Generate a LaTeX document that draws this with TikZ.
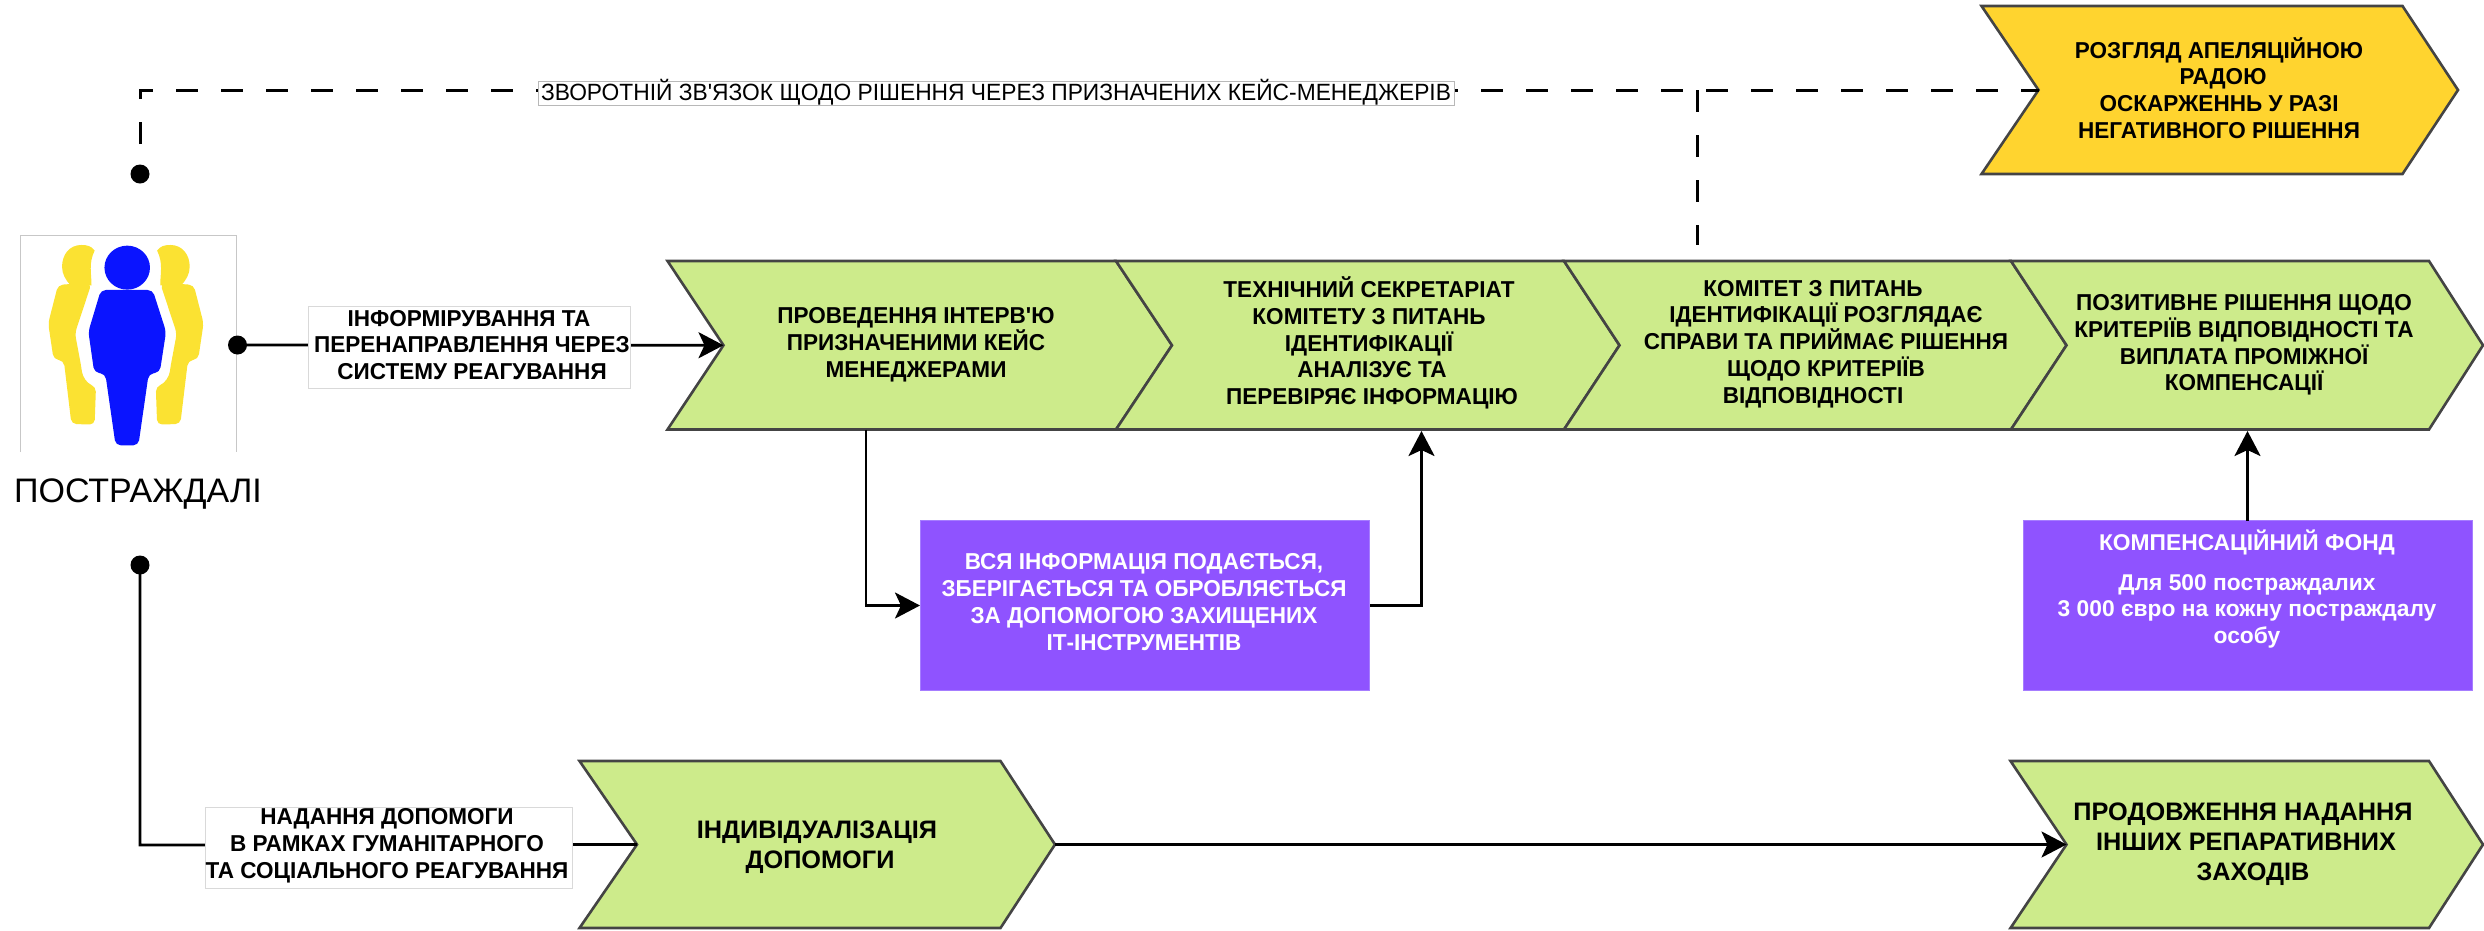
\documentclass[tikz,border=0pt]{standalone}
\usepackage{fontspec}
\setmainfont{Liberation Sans}
\newfontfamily\lbold[FakeStretch=0.98]{Liberation Sans Bold}
\newfontfamily\lbolda{Liberation Sans Bold}
\newfontfamily\lreg[FakeStretch=0.97]{Liberation Sans}
\newfontfamily\lplain{Liberation Sans}
\usetikzlibrary{arrows.meta}
\definecolor{chevgreen}{HTML}{CDEB8B}
\definecolor{chevyellow}{HTML}{FFD42F}
\definecolor{chevline}{HTML}{444444}
\definecolor{violetbox}{HTML}{8F53FF}
\definecolor{violetline}{HTML}{A67DFF}
\definecolor{pplyellow}{HTML}{FBE232}
\definecolor{pplblue}{HTML}{0A14FF}
\tikzset{
  chevshape/.style={draw=chevline,line width=2.6pt,line join=miter},
  bodytxt/.style={font=\lbold\fontsize{23}{26.8}\selectfont,align=center,inner sep=0pt,text=black},
  bigtxt/.style={font=\lbolda\fontsize{25.3}{30}\selectfont,align=center,inner sep=0pt,text=black},
  violetrect/.style={fill=violetbox,draw=violetline,line width=1pt,inner sep=0pt,minimum width=449pt,minimum height=170pt},
  whitetxt/.style={font=\lbold\fontsize{23}{26.8}\selectfont,align=center,inner sep=0pt,text=white},
  fundtxt/.style={font=\lbolda\fontsize{22.8}{26.5}\selectfont,align=center,inner sep=0pt,text=white},
  lblbox/.style={fill=white,draw=black!15,line width=1pt,inner sep=0pt},
  dotnode/.style={circle,fill=black,inner sep=0pt,minimum size=19pt},
  flow/.style={draw=black,line width=2.8pt,-{Stealth[length=25pt,width=26pt,inset=6pt]}},
  plainflow/.style={draw=black,line width=2.8pt},
  dashflow/.style={draw=black,line width=3pt,dash pattern=on 22pt off 23pt},
}
% name, left, notch, end, tip, top, bottom, fill
\newcommand{\chevron}[8]{%
  \coordinate (#1-lt) at (#2,#6);
  \coordinate (#1-rt) at (#4,#6);
  \coordinate (#1-tip) at (#5,{(#6+#7)/2});
  \coordinate (#1-rb) at (#4,#7);
  \coordinate (#1-lb) at (#2,#7);
  \coordinate (#1-notch) at (#3,{(#6+#7)/2});
  \path[chevshape,fill=#8] (#1-lt) -- (#1-rt) -- (#1-tip) -- (#1-rb) -- (#1-lb) -- (#1-notch) -- cycle;
}
\begin{document}
\begin{tikzpicture}[x=1pt,y=-1pt]
\useasboundingbox (0,0) rectangle (2484,930);
% victims picture
\draw[black!22,line width=1pt] (20,452) -- (20,235.5) -- (236.5,235.5) -- (236.5,452);
\begin{scope}[x=0.4464pt,y=-0.3333pt]
  % yellow heads
  \fill[pplyellow] (212,752) .. controls (205,738) and (195,735) .. (182,735) .. controls (155,735) and (139,765) .. (139,800) .. controls (139,822) and (147,840) .. (158,856) -- (205,856) .. controls (205,820) and (198,790) .. (212,752) -- cycle;
  \fill[pplyellow] (352,752) .. controls (359,738) and (369,735) .. (382,735) .. controls (409,735) and (425,765) .. (425,800) .. controls (425,822) and (417,840) .. (406,856) -- (359,856) .. controls (359,820) and (366,790) .. (352,752) -- cycle;
  % yellow bodies
  \fill[pplyellow,rounded corners=5pt] (158,852) -- (130,855) -- (108,970) -- (120,1078) -- (143,1082) -- (160,1272) -- (212,1274) -- (215,1160) .. controls (195,1150) and (185,1130) .. (182,1100) -- (168,1000) -- (205,850) -- cycle;
  \fill[pplyellow,rounded corners=5pt] (406,852) -- (434,855) -- (456,970) -- (444,1078) -- (421,1082) -- (404,1272) -- (352,1274) -- (349,1160) .. controls (369,1150) and (379,1130) .. (382,1100) -- (396,1000) -- (359,850) -- cycle;
  % blue figure
  \fill[pplblue] (285,803) ellipse [x radius=51,y radius=66];
  \fill[pplblue,rounded corners=5pt] (226,870) -- (342,870) -- (372,995) -- (358,1117) -- (333,1122) -- (310,1336) -- (259,1336) -- (236,1122) -- (211,1117) -- (198,995) -- cycle;
\end{scope}
\node[font=\lplain\fontsize{34}{36}\selectfont,inner sep=0pt] (victims) at (138,494) {ПОСТРАЖДАЛІ};
% chevrons
\chevron{ca}{667.5}{723.5}{1116}{1172}{261}{429.5}{chevgreen}
\chevron{cb}{1116}{1172}{1564}{1619.5}{261}{429.5}{chevgreen}
\chevron{cc}{1564}{1619.5}{2011}{2066.5}{261}{429.5}{chevgreen}
\chevron{cd}{2011}{2066.5}{2429}{2483}{261}{429.5}{chevgreen}
\chevron{ce}{1981.5}{2038.5}{2402.5}{2458}{6}{174}{chevyellow}
\chevron{cf}{579.5}{637}{1000.5}{1055}{761}{928}{chevgreen}
\chevron{cg}{2010.5}{2066.5}{2429}{2483}{761}{928}{chevgreen}
\node[bodytxt] (ta) at (916,345) {ПРОВЕДЕННЯ ІНТЕРВ'Ю\\ПРИЗНАЧЕНИМИ КЕЙС\\МЕНЕДЖЕРАМИ};
\node[bodytxt] (tb) at (1369,343) {ТЕХНІЧНИЙ СЕКРЕТАРІАТ\\КОМІТЕТУ З ПИТАНЬ\\ІДЕНТИФІКАЦІЇ\\\hspace*{6pt}АНАЛІЗУЄ ТА\\\hspace*{6pt}ПЕРЕВІРЯЄ ІНФОРМАЦІЮ};
\node[bodytxt] (tc) at (1826,344) {КОМІТЕТ З ПИТАНЬ\hspace*{26pt}\\ІДЕНТИФІКАЦІЇ РОЗГЛЯДАЄ\hspace*{6pt}\\СПРАВИ ТА ПРИЙМАЄ РІШЕННЯ\\ЩОДО КРИТЕРІЇВ\hspace*{40pt}\\ВІДПОВІДНОСТІ\hspace*{26pt}};
\node[bodytxt] (td) at (2244,345) {ПОЗИТИВНЕ РІШЕННЯ ЩОДО\\КРИТЕРІЇВ ВІДПОВІДНОСТІ ТА\\ВИПЛАТА ПРОМІЖНОЇ\\КОМПЕНСАЦІЇ};
\node[bodytxt] (te) at (2219,88) {РОЗГЛЯД АПЕЛЯЦІЙНОЮ\\\hspace*{8pt}РАДОЮ\\ОСКАРЖЕННЬ У РАЗІ\hspace*{6pt}\\НЕГАТИВНОГО РІШЕННЯ};
\node[bigtxt] (tf) at (817,847) {ІНДИВІДУАЛІЗАЦІЯ\\\hspace*{6pt}ДОПОМОГИ};
\node[bigtxt] (tg) at (2243,844.5) {ПРОДОВЖЕННЯ НАДАННЯ\\\hspace*{6pt}ІНШИХ РЕПАРАТИВНИХ\\\hspace*{20pt}ЗАХОДІВ};
% violet boxes
\node[violetrect] (vb) at (1145,605.5) {};
\node[whitetxt] (vbt) at (1144,602) {ВСЯ ІНФОРМАЦІЯ ПОДАЄТЬСЯ,\\ЗБЕРІГАЄТЬСЯ ТА ОБРОБЛЯЄТЬСЯ\\ЗА ДОПОМОГОЮ ЗАХИЩЕНИХ\\ІТ-ІНСТРУМЕНТІВ};
\node[violetrect] (fund) at (2247.5,605.5) {};
\node[fundtxt] (fundt) at (2247,542) {КОМПЕНСАЦІЙНИЙ ФОНД};
\node[fundtxt] (fundb) at (2247,611) {Для 500 постраждалих\\3 000 євро на кожну постраждалу\\особу};
% dots
\node[dotnode] (d1) at (140,174) {};
\node[dotnode] (d2) at (237.5,345) {};
\node[dotnode] (d3) at (140,565) {};
% connectors
\coordinate (corner1) at (140,90);
\coordinate (cjunction) at (1697,90);
\coordinate (cstub) at (1697,245);
\coordinate (turn1) at (866,605.5);
\coordinate (turn1a) at (866,429.5);
\coordinate (turn2) at (1421.5,605.5);
\coordinate (turn2a) at (1421.5,431);
\coordinate (fundup) at (2247.5,431);
\coordinate (fundbot) at (2247.5,520.5);
\coordinate (turn3) at (140,845);
\draw[dashflow,dash phase=15pt] (d1.center) -- (corner1) -- (ce-notch);
\draw[dashflow] (cjunction) -- (cstub);
\draw[flow] (d2.center) -- (ca-notch);
\draw[flow] (turn1a) -- (turn1) -- (vb.west);
\draw[flow] (vb.east) -- (turn2) -- (turn2a);
\draw[flow] (fundbot) -- (fundup);
\draw[plainflow] (d3.center) -- (turn3) -- (cf-notch);
\draw[flow] (cf-tip) -- (cg-notch);
% labels
\node[lblbox,minimum width=322pt,minimum height=82pt] (la) at (469,347) {};
\node[bodytxt] (lat) at (472,345) {ІНФОРМІРУВАННЯ ТА\hspace*{6pt}\\ПЕРЕНАПРАВЛЕННЯ ЧЕРЕЗ\\СИСТЕМУ РЕАГУВАННЯ};
\node[lblbox,minimum width=367pt,minimum height=81pt] (lb) at (388.5,847.5) {};
\node[bodytxt] (lbt) at (387,846) {НАДАННЯ ДОПОМОГИ\\В РАМКАХ ГУМАНІТАРНОГО\\ТА СОЦІАЛЬНОГО РЕАГУВАННЯ};
\node[lblbox,draw=black!28,minimum width=916pt,minimum height=24pt] (lc) at (996,93) {};
\node[font=\lreg\fontsize{23.5}{26}\selectfont,inner sep=0pt] (lct) at (996,92) {ЗВОРОТНІЙ ЗВ'ЯЗОК ЩОДО РІШЕННЯ ЧЕРЕЗ ПРИЗНАЧЕНИХ КЕЙС-МЕНЕДЖЕРІВ};
\end{tikzpicture}
\end{document}
